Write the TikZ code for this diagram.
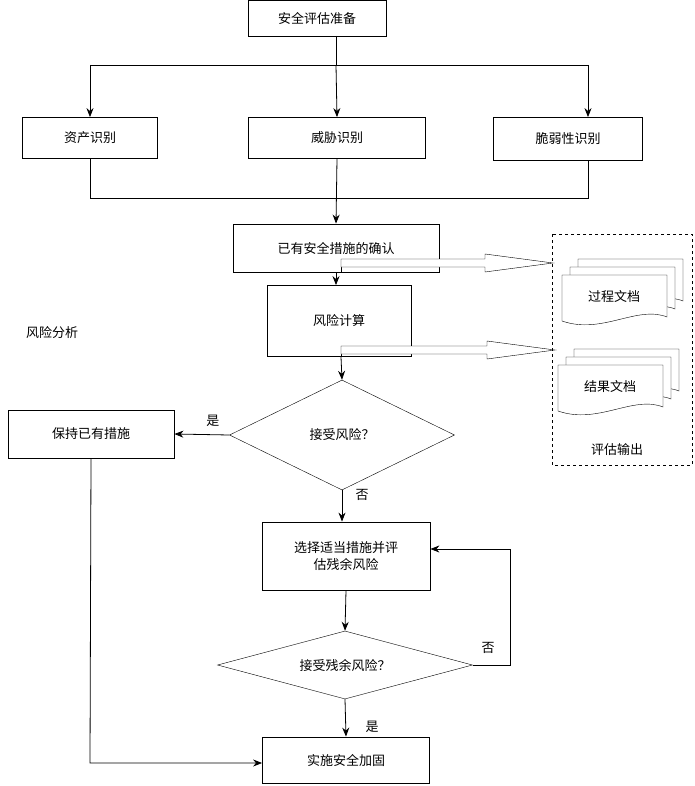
\documentclass[tikz,border=0pt]{standalone}
\usepackage{fontspec}
\setmainfont{Noto Sans CJK SC}
\usetikzlibrary{shapes.geometric,arrows.meta}
\begin{document}
\begin{tikzpicture}[x=1pt,y=-1pt,
  box/.style={draw,thick,minimum width=#1,align=center,font=\fontsize{13}{17}\selectfont,inner sep=2pt},
  dia/.style={draw,diamond,aspect=2.1,font=\fontsize{13}{17}\selectfont,inner sep=1pt},
  arr/.style={-{Stealth[length=9pt,width=7pt]},thick},
  lab/.style={font=\fontsize{13}{17}\selectfont},
  hol/.style={draw,fill=white}]
\useasboundingbox (0,0) rectangle (694,786);
\node[box=138pt,minimum height=36pt] (prep) at (317,18) {安全评估准备};
\node[box=135pt,minimum height=41pt] (asset) at (90,138) {资产识别};
\node[box=177pt,minimum height=41pt] (threat) at (337,138) {威胁识别};
\node[box=149pt,minimum height=43pt] (vul) at (568,139) {脆弱性识别};
\node[box=206pt,minimum height=48pt] (exist) at (336,248) {已有安全措施的确认};
\node[box=144pt,minimum height=71pt] (calc) at (339,321) {风险计算};
\node[dia,minimum width=225pt,minimum height=110pt] (acc) at (342,435) {接受风险？};
\node[box=166pt,minimum height=48pt] (keep) at (91,434) {保持已有措施};
\node[box=168pt,minimum height=68pt] (sel) at (346,556) {选择适当措施并评\\估残余风险};
\node[dia,minimum width=255pt,minimum height=68pt] (acc2) at (345,665) {接受残余风险？};
\node[box=167pt,minimum height=46pt] (impl) at (346,760) {实施安全加固};
\coordinate (hl) at (90,65); \coordinate (hr) at (588,65); \coordinate (hm) at (336,36);
\draw[thick] (hm) -- (336,65);
\draw[thick] (hl) -- (hr);
\draw[arr] (hl) -- (asset.north);
\draw[arr] (336,65) -- (threat.north);
\draw[arr] (hr) -- (vul.north -| hr);
\coordinate (bl) at (90,198); \coordinate (br) at (588,198);
\draw (asset.south) -- (bl) -- (br) -- (vul.south -| br);
\draw[arr] (threat.south) -- (exist.north);
\draw[arr] (exist.south) -- (exist.south |- calc.north);
\draw[arr] (341,357) -- (acc.north);
\draw[arr] (acc.west) -- (keep.east) node[lab,pos=0.3,above=4pt] {是};
\draw[arr] (acc.south) -- (sel.north -| acc.south) node[lab,pos=0.15,right=10pt] {否};
\draw[arr] (sel.south) -- (acc2.north);
\coordinate (rt) at (510,665); \coordinate (rt2) at (510,549);
\draw[thick,-{Stealth[length=9pt,width=7pt]}] (acc2.east) -- (rt) -- (rt2) -- (sel.east |- rt2);
\node[lab] at (488,648) {否};
\draw[arr] (acc2.south) -- (impl.north);
\node[lab] at (372,727) {是};
\coordinate (kb) at (90,763);
\draw[thick,-{Stealth[length=9pt,width=7pt]}] (keep.south) -- (kb) -- (impl.west |- kb);
% hollow arrows
\draw (341,272) -- (341,263);
\draw[hol] (341,259) -- (485,259) -- (485,254) -- (553,263) -- (485,272) -- (485,267) -- (341,267) -- cycle;
\draw (341,357) -- (341,350);
\draw[hol] (341,346) -- (487,346) -- (487,341) -- (555,350) -- (487,359) -- (487,354) -- (341,354) -- cycle;
\node[lab] at (52,333) {风险分析};
\draw[dashed] (552,234) rectangle (692,465);
\node[lab] at (617,450) {评估输出};
\foreach \x/\y/\t in {562/275/过程文档,558/365/结果文档}{
  \foreach \d in {16,8,0}{
    \draw[fill=white] (\x+\d,\y-\d) -- (\x+\d+105,\y-\d) -- (\x+\d+105,\y-\d+42) .. controls (\x+\d+75,\y-\d+30) and (\x+\d+40,\y-\d+60) .. (\x+\d,\y-\d+46) -- cycle;
  }
  \node[lab] at (\x+52,\y+22) {\t};
}
\end{tikzpicture}
\end{document}
